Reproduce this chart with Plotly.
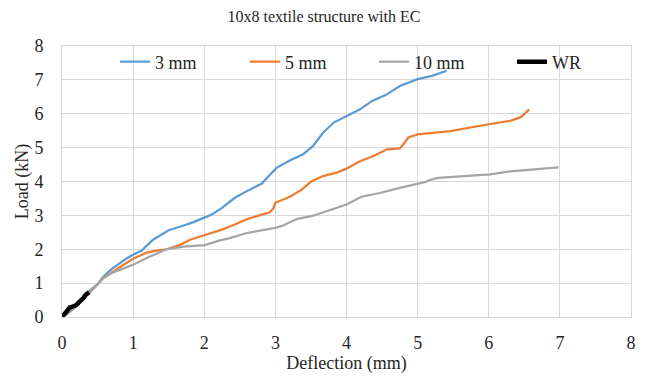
import plotly.graph_objects as go

# ---- data ----
x_3mm = [0, 0.1, 0.2, 0.3, 0.39, 0.5, 0.58, 0.7, 0.81, 0.9, 1.0, 1.12, 1.28, 1.5, 1.71, 1.85,
         2.01, 2.1, 2.25, 2.43, 2.64, 2.81, 2.9, 3.02, 3.21, 3.39, 3.53, 3.67, 3.82, 4.0,
         4.19, 4.36, 4.55, 4.75, 5.0, 5.2, 5.41]
y_3mm = [0, 0.17, 0.37, 0.58, 0.78, 0.97, 1.19, 1.42, 1.59, 1.72, 1.84, 1.96, 2.28, 2.56, 2.7, 2.8,
         2.94, 3.02, 3.22, 3.52, 3.76, 3.94, 4.15, 4.41, 4.63, 4.8, 5.05, 5.44, 5.74, 5.93,
         6.13, 6.38, 6.55, 6.82, 7.02, 7.12, 7.27]

x_5mm = [0, 0.1, 0.2, 0.3, 0.39, 0.5, 0.58, 0.7, 0.81, 1.0, 1.19, 1.33, 1.47, 1.66, 1.8, 2.01,
         2.25, 2.43, 2.6, 2.81, 2.92, 2.97, 3.0, 3.21, 3.37, 3.51, 3.67, 3.86, 4.0, 4.19,
         4.38, 4.57, 4.75, 4.8, 4.87, 5.0, 5.46, 6.0, 6.3, 6.45, 6.57]
y_5mm = [0, 0.13, 0.32, 0.53, 0.75, 0.96, 1.15, 1.33, 1.47, 1.72, 1.9, 1.96, 2.0, 2.13, 2.28, 2.42,
         2.58, 2.73, 2.89, 3.02, 3.09, 3.2, 3.37, 3.56, 3.76, 4.01, 4.16, 4.26, 4.38, 4.6,
         4.75, 4.95, 4.98, 5.1, 5.3, 5.39, 5.49, 5.69, 5.79, 5.9, 6.13]

x_10mm = [0, 0.1, 0.2, 0.3, 0.39, 0.5, 0.58, 0.7, 0.81, 1.0, 1.19, 1.47, 1.71, 2.01, 2.22, 2.36,
          2.6, 3.0, 3.11, 3.3, 3.53, 3.82, 4.0, 4.21, 4.47, 4.75, 5.0, 5.1, 5.18, 5.29,
          6.02, 6.3, 6.98]
y_10mm = [0, 0.13, 0.32, 0.53, 0.75, 0.96, 1.15, 1.3, 1.39, 1.54, 1.74, 2.0, 2.08, 2.12, 2.26, 2.33,
          2.48, 2.63, 2.7, 2.89, 2.99, 3.19, 3.32, 3.55, 3.66, 3.81, 3.93, 3.98, 4.05, 4.11,
          4.21, 4.3, 4.42]

x_wr = [0, 0.02, 0.04, 0.08, 0.11, 0.15, 0.2, 0.24, 0.27, 0.3, 0.33, 0.36, 0.38]
y_wr = [0, 0.06, 0.11, 0.2, 0.28, 0.31, 0.35, 0.44, 0.49, 0.56, 0.65, 0.7, 0.73]

series_names = ["3 mm", "5 mm", "10 mm", "WR"]
series_colors = ["#5B9BD5", "#ED7D31", "#A5A5A5", "#000000"]
series_widths = [2.25, 2.25, 2.25, 4.5]

FONT = "Liberation Serif"
TXT = "#262626"

fig = go.Figure()
data = [(x_3mm, y_3mm), (x_5mm, y_5mm), (x_10mm, y_10mm), (x_wr, y_wr)]
legend_ids = ["legend", "legend2", "legend3", "legend4"]
for (xs, ys), name, col, w, lg in zip(data, series_names, series_colors, series_widths, legend_ids):
    fig.add_trace(go.Scatter(x=xs, y=ys, mode="lines", name=name,
                             line=dict(color=col, width=w), legend=lg))

# plot area: left 62, right 631, top 46, bottom 317
L, R, T, B = 62, 17, 46, 63
W, H = 648, 380
pw = W - L - R

def lx(px):
    return (px - L) / pw

legend_px = [115, 245, 374, 512]
legend_common = dict(orientation="h", yanchor="middle", xanchor="left",
                     bgcolor="rgba(0,0,0,0)", borderwidth=0,
                     font=dict(family=FONT, size=18, color=TXT))
ly = 1 - (62 - T) / (H - T - B)
layout_legends = {}
for lg, px in zip(legend_ids, legend_px):
    layout_legends[lg] = dict(x=lx(px), y=ly, **legend_common)

fig.update_layout(
    width=W, height=H,
    margin=dict(l=L, r=R, t=T, b=B),
    paper_bgcolor="white", plot_bgcolor="white",
    font=dict(family=FONT, size=17, color=TXT),
    title=dict(text="10x8 textile structure with EC", x=0.5, xanchor="center",
               y=1 - 16 / H, yanchor="middle", yref="container",
               font=dict(family=FONT, size=16, color=TXT)),
    showlegend=True,
    **layout_legends,
)

fig.update_xaxes(range=[0, 8], dtick=1, showgrid=True, gridcolor="#d9d9d9", gridwidth=1,
                 zeroline=False, showline=True, linecolor="#d9d9d9", mirror=True,
                 ticks="", ticklabelstandoff=9,
                 tickfont=dict(family=FONT, size=18, color=TXT),
                 title=dict(text="Deflection (mm)", standoff=4,
                            font=dict(family=FONT, size=18, color=TXT)))
fig.update_yaxes(range=[0, 8], dtick=1, showgrid=True, gridcolor="#d9d9d9", gridwidth=1,
                 zeroline=False, showline=True, linecolor="#d9d9d9", mirror=True,
                 ticks="", ticklabelstandoff=14,
                 tickfont=dict(family=FONT, size=18, color=TXT),
                 title=dict(text="Load (kN)", standoff=1,
                            font=dict(family=FONT, size=18, color=TXT)))

fig.write_html("out.html")
